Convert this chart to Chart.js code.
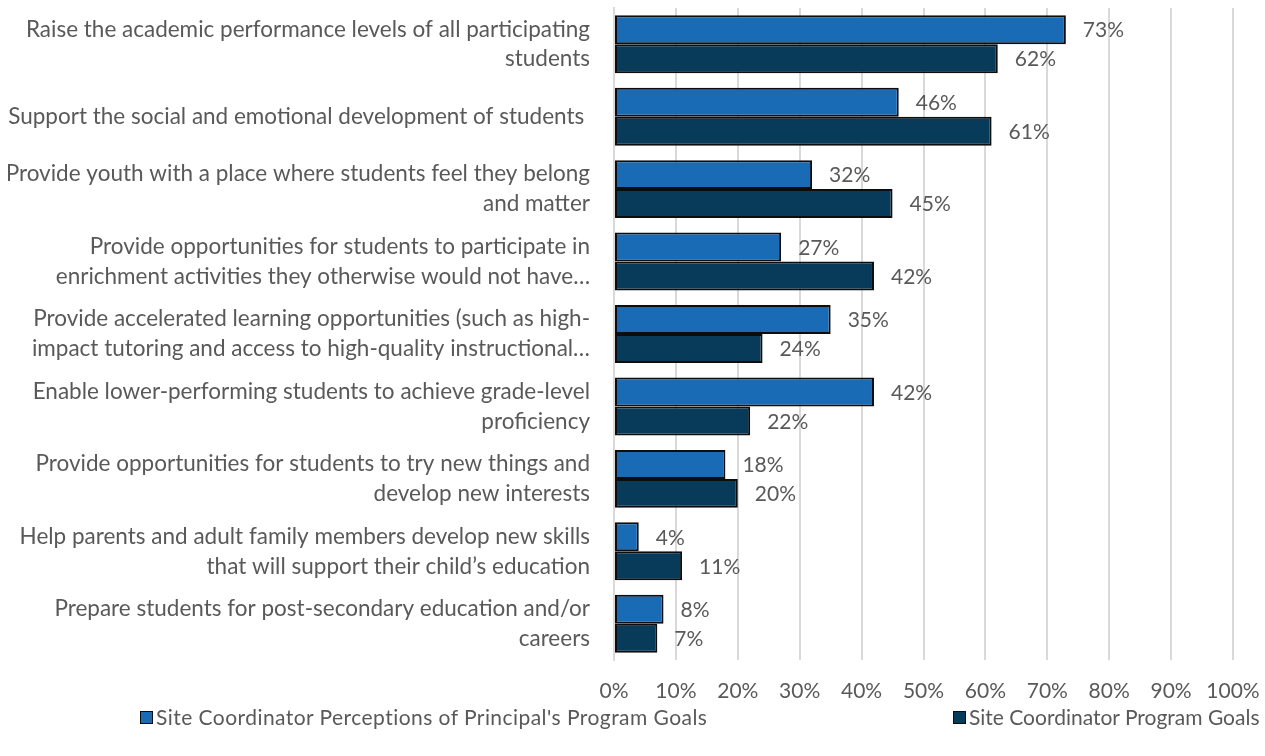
<!DOCTYPE html>
<html>
<head>
<meta charset="utf-8">
<script src="https://cdn.jsdelivr.net/npm/chart.js@4.4.1/dist/chart.umd.min.js"></script>
<style>
  html, body { margin: 0; padding: 0; background: #fff; }
  #wrap { position: relative; width: 1265px; height: 756px; overflow: hidden; }
  .item { position: absolute; top: 704px; display: flex; align-items: center; white-space: nowrap;
          font-family: Lato, sans-serif; font-size: 21px; color: #595959; line-height: 26px; }
  .box { width: 11px; height: 11px; border: 1.5px solid #0d0d0d; margin-right: 3px; }
</style>
</head>
<body>
<div id="wrap">
  <canvas id="c" width="1265" height="756"></canvas>
</div>
<script>
const categories = [
  ["Raise the academic performance levels of all participating", "students"],
  "Support the social and emotional development of students ",
  ["Provide youth with a place where students feel they belong", "and matter"],
  ["Provide opportunities for students to participate in", "enrichment activities they otherwise would not have…"],
  ["Provide accelerated learning opportunities (such as high-", "impact tutoring and access to high-quality instructional…"],
  ["Enable lower-performing students to achieve grade-level", "proficiency"],
  ["Provide opportunities for students to try new things and", "develop new interests"],
  ["Help parents and adult family members develop new skills", "that will support their child’s education"],
  ["Prepare students for post-secondary education and/or", "careers"]
];
const seriesNames = [
  "Site Coordinator Perceptions of Principal's Program Goals",
  "Site Coordinator Program Goals"
];
const principalGoals = [73, 46, 32, 27, 35, 42, 18, 4, 8];
const coordinatorGoals = [62, 61, 45, 42, 24, 22, 20, 11, 7];
const xTicks = [0, 10, 20, 30, 40, 50, 60, 70, 80, 90, 100];

const colors = ["#1a6bb5", "#083a5a"];
const textColor = "#595959";
const fontFamily = "Lato, sans-serif";

const valueLabels = {
  id: 'valueLabels',
  afterDatasetsDraw(chart) {
    const ctx = chart.ctx;
    ctx.save();
    ctx.font = "21px " + fontFamily;
    ctx.fillStyle = textColor;
    ctx.textAlign = 'left';
    ctx.textBaseline = 'middle';
    chart.data.datasets.forEach((ds, i) => {
      chart.getDatasetMeta(i).data.forEach((bar, j) => {
        ctx.fillText(ds.data[j] + '%', bar.x + 17, bar.y + 1);
      });
    });
    ctx.restore();
  }
};

new Chart(document.getElementById('c'), {
  type: 'bar',
  data: {
    labels: categories,
    datasets: [
      { label: seriesNames[0], data: principalGoals, backgroundColor: colors[0] },
      { label: seriesNames[1], data: coordinatorGoals, backgroundColor: colors[1] }
    ]
  },
  options: {
    indexAxis: 'y',
    responsive: false,
    animation: false,
    datasets: { bar: { categoryPercentage: 0.8, barPercentage: 1.0, borderColor: '#0d0d0d', borderWidth: 2, borderSkipped: false } },
    layout: { padding: { left: 8, right: 32, top: 8, bottom: 46 } },
    plugins: { legend: { display: false }, tooltip: { enabled: false } },
    scales: {
      x: {
        min: 0, max: 100,
        afterBuildTicks(scale) { scale.ticks = xTicks.map(v => ({ value: v })); },
        afterFit(scale) { scale.height = 50; scale.paddingLeft = 0; scale.paddingRight = 0; },
        ticks: { callback: v => v + '%', color: textColor, font: { family: fontFamily, size: 21 }, padding: 19, maxRotation: 0 },
        grid: { color: '#d9d9d9', lineWidth: 2, drawTicks: false },
        border: { display: false }
      },
      y: {
        afterFit(scale) { scale.width = 606; scale.paddingTop = 0; scale.paddingBottom = 0; },
        ticks: { color: textColor, font: { family: fontFamily, size: 22.5, lineHeight: 1.33 }, padding: 24, autoSkip: false },
        grid: { display: false, drawTicks: false },
        border: { color: '#d9d9d9', width: 2 }
      }
    }
  },
  plugins: [valueLabels]
});

const wrap = document.getElementById('wrap');
const legendLeft = [140, 953];
seriesNames.forEach((name, i) => {
  const item = document.createElement('div');
  item.className = 'item';
  item.style.left = legendLeft[i] + 'px';
  const box = document.createElement('span');
  box.className = 'box';
  box.style.background = colors[i];
  const t = document.createElement('span');
  t.textContent = name;
  if (i === 0) t.style.letterSpacing = '0.45px';
  item.appendChild(box); item.appendChild(t);
  wrap.appendChild(item);
});
</script>
</body>
</html>
